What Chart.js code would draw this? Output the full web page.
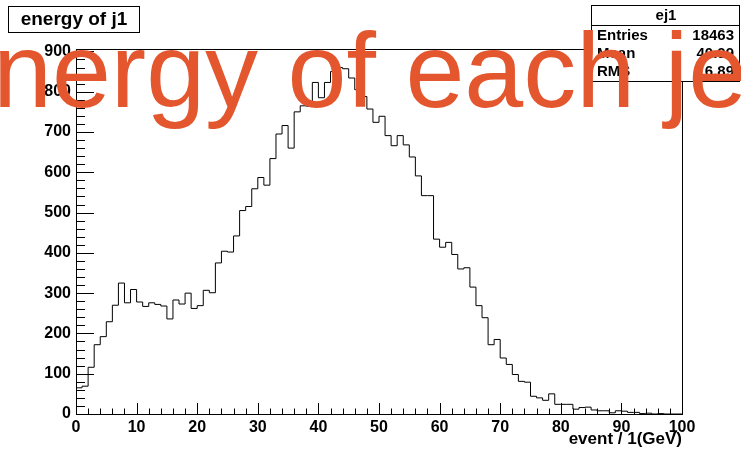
<!DOCTYPE html>
<html>
<head>
<meta charset="utf-8">
<title>energy of j1</title>
<script src="https://cdn.jsdelivr.net/npm/chart.js@4.4.0/dist/chart.umd.min.js"></script>
<style>
  html, body { margin: 0; padding: 0; background: #fff; }
  canvas { display: block; }
</style>
</head>
<body>
<canvas id="grafico" width="741" height="453"></canvas>
<script>
// histogram ej1: 100 bins of 1 GeV from 0 to 100
const binLow = [];
for (let i = 0; i < 100; i++) binLow.push(i);

const counts = [
   65,  69, 116, 172, 192, 229, 270, 325, 276, 309,
  278, 267, 276, 272, 268, 236, 283, 273, 300, 262,
  269, 307, 301, 375, 404, 402, 442, 505, 515, 559,
  587, 568, 634, 695, 716, 660, 750, 765, 764, 823,
  785, 823, 850, 860, 857, 834, 805, 788, 757, 724,
  739, 691, 666, 691, 668, 638, 591, 542, 542, 434,
  414, 426, 396, 360, 363, 315, 269, 239, 172, 185,
  139, 123,  98,  81,  79,  44,  40,  34,  50,  24,
   24,  24,  12,  16,  17,  10,   8,   8,   3,   8,
    7,   4,   4,   1,   2,   0,   1,   0,   0,   0
];

const xTickValues = [0, 10, 20, 30, 40, 50, 60, 70, 80, 90, 100];
const yTickValues = [0, 100, 200, 300, 400, 500, 600, 700, 800, 900];
const xMinorStep = 2;
const yMinorStep = 20;

const histTitle = 'energy of j1';
const histName = 'ej1';
const statLabels = ['Entries', 'Mean', 'RMS'];
const statValues = ['18463', '40.99', '16.89'];
const xAxisTitle = 'event / 1(GeV)';
const overlayText = 'energy of each jet';

document.addEventListener('DOMContentLoaded', function() {
  const fontFamily = '"Liberation Sans", Arial, Helvetica, sans-serif';

  const pontos = binLow.map((x, i) => ({ x: x, y: counts[i] }));
  pontos.push({ x: binLow[binLow.length - 1] + 1, y: counts[counts.length - 1] });

  // frame + ROOT style ticks pointing inwards
  const molduraPlugin = {
    id: 'moldura',
    afterDatasetsDraw(chart) {
      const { ctx, chartArea: a, scales: { x, y } } = chart;
      ctx.save();
      ctx.strokeStyle = '#000';
      ctx.lineWidth = 1;
      ctx.beginPath();
      for (let v = x.min; v <= x.max; v += xMinorStep) {
        const px = Math.round(x.getPixelForValue(v)) + 0.5;
        const len = xTickValues.includes(v) ? 11 : 5.5;
        ctx.moveTo(px, a.bottom);
        ctx.lineTo(px, a.bottom - len);
      }
      for (let v = 0; v <= y.max; v += yMinorStep) {
        const py = Math.round(y.getPixelForValue(v)) + 0.5;
        const len = yTickValues.includes(v) ? 18 : 9;
        ctx.moveTo(a.left, py);
        ctx.lineTo(a.left + len, py);
      }
      ctx.stroke();
      ctx.strokeRect(a.left + 0.5, a.top + 0.5, a.right - a.left, a.bottom - a.top);
      ctx.restore();
    }
  };

  const textosPlugin = {
    id: 'textos',
    afterDraw(chart) {
      const ctx = chart.ctx;
      ctx.save();
      ctx.lineWidth = 1;
      ctx.strokeStyle = '#000';
      ctx.fillStyle = '#000';

      // title box
      ctx.fillStyle = '#fff';
      ctx.fillRect(8.5, 6.5, 131, 26);
      ctx.strokeRect(8.5, 6.5, 131, 26);
      ctx.fillStyle = '#000';
      ctx.font = 'bold 19px ' + fontFamily;
      ctx.textAlign = 'center';
      ctx.textBaseline = 'alphabetic';
      ctx.fillText(histTitle, 74, 25);

      // stats box
      ctx.fillStyle = '#fff';
      ctx.fillRect(591.5, 5.5, 148, 76);
      ctx.strokeRect(591.5, 5.5, 148, 76);
      ctx.beginPath();
      ctx.moveTo(591.5, 25.5);
      ctx.lineTo(739.5, 25.5);
      ctx.stroke();
      ctx.fillStyle = '#000';
      ctx.font = 'bold 15px ' + fontFamily;
      ctx.fillText(histName, 666, 20);
      statLabels.forEach((lbl, i) => {
        const base = 40 + i * 18;
        ctx.textAlign = 'left';
        ctx.fillText(lbl, 597, base);
        ctx.textAlign = 'right';
        ctx.fillText(statValues[i], 734, base);
      });

      // x axis title
      ctx.font = 'bold 17px ' + fontFamily;
      ctx.textAlign = 'right';
      ctx.fillText(xAxisTitle, 682, 444);

      // big overlay text
      ctx.fillStyle = '#e4572e';
      ctx.font = '106px ' + fontFamily;
      ctx.textAlign = 'left';
      ctx.fillText(overlayText, -66, 107);
      ctx.restore();
    }
  };

  const ctx = document.getElementById('grafico').getContext('2d');
  new Chart(ctx, {
    type: 'line',
    data: {
      datasets: [{
        label: histName,
        data: pontos,
        stepped: true,
        borderColor: '#000',
        borderWidth: 1,
        pointRadius: 0,
        fill: false,
        tension: 0
      }]
    },
    options: {
      responsive: false,
      animation: false,
      devicePixelRatio: 1,
      layout: { padding: { top: 49, right: 59, left: 0, bottom: 0 } },
      plugins: {
        legend: { display: false },
        tooltip: { enabled: false }
      },
      scales: {
        x: {
          type: 'linear',
          min: 0,
          max: 100,
          afterFit: s => { s.height = 39; },
          afterBuildTicks: s => { s.ticks = xTickValues.map(v => ({ value: v })); },
          grid: { display: false, drawTicks: false },
          border: { display: false },
          ticks: {
            autoSkip: false,
            maxRotation: 0,
            padding: 4,
            color: '#000',
            font: { family: fontFamily, weight: 'bold', size: 16 }
          }
        },
        y: {
          type: 'linear',
          min: 0,
          max: 906,
          afterFit: s => { s.width = 76; },
          afterBuildTicks: s => { s.ticks = yTickValues.map(v => ({ value: v })); },
          grid: { display: false, drawTicks: false },
          border: { display: false },
          ticks: {
            padding: 5,
            color: '#000',
            font: { family: fontFamily, weight: 'bold', size: 16 }
          }
        }
      }
    },
    plugins: [molduraPlugin, textosPlugin]
  });
});
</script>
</body>
</html>
